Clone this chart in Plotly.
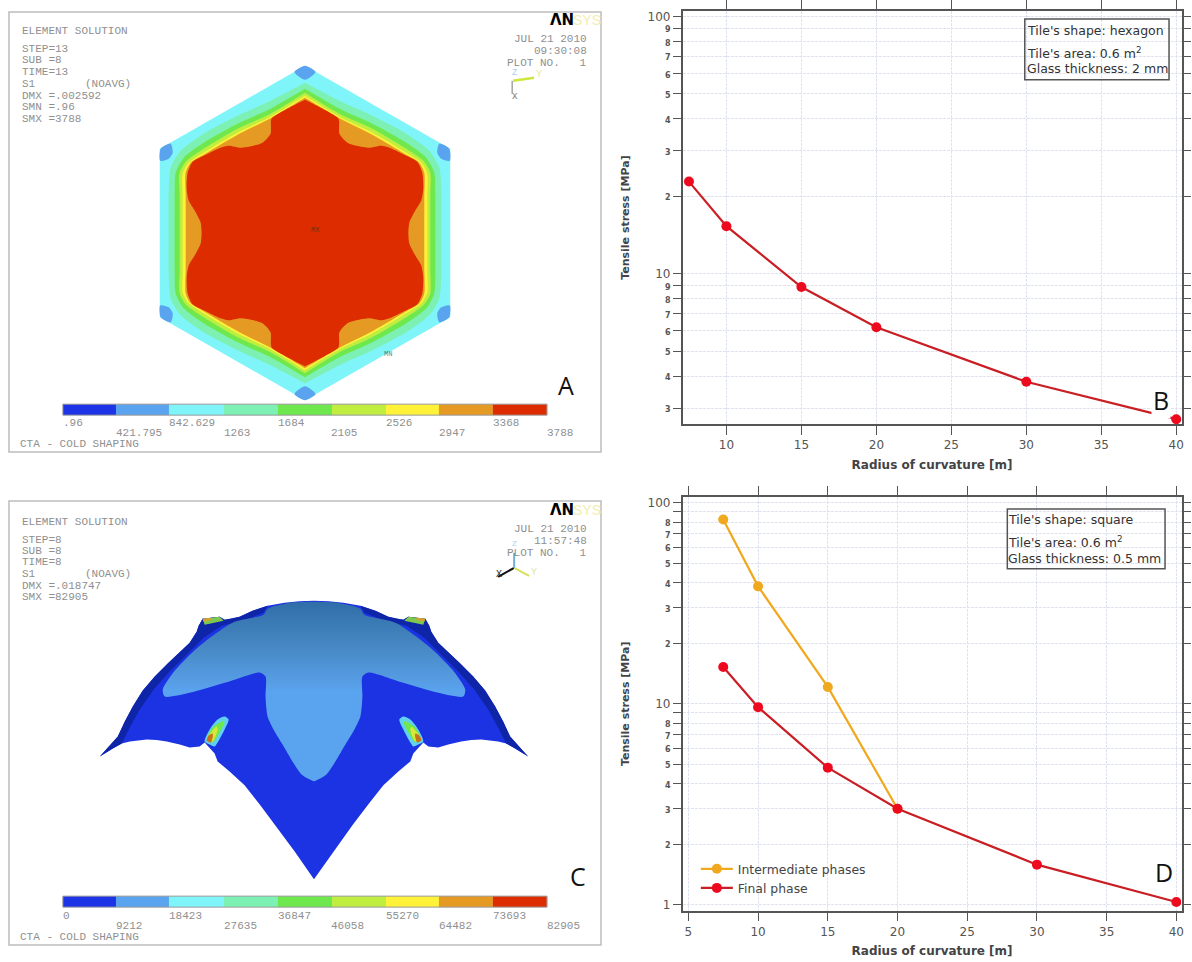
import plotly.graph_objects as go

W, H = 1192, 962

# ---------- line chart data ----------
RADIUS_B = [7.5, 10, 15, 20, 30, 40]
STRESS_B = [22.8, 15.3, 8.87, 6.19, 3.8, 2.72]
RADIUS_D_INT = [7.5, 10, 15, 20]
STRESS_D_INT = [82.4, 38.3, 12.1, 3.0]
RADIUS_D_FIN = [7.5, 10, 15, 20, 30, 40]
STRESS_D_FIN = [15.2, 9.6, 4.8, 3.0, 1.58, 1.03]

TICKS_X_B = [10, 15, 20, 25, 30, 35, 40]
TICKS_X_D = [5, 10, 15, 20, 25, 30, 35, 40]
TICKS_Y_B = [100, 90, 80, 70, 60, 50, 40, 30, 20, 10, 9, 8, 7, 6, 5, 4, 3]
LABELS_Y_B = ["100", "9", "8", "7", "6", "5", "4", "3", "2", "10", "9", "8", "7", "6", "5", "4", "3"]
TICKS_Y_D = [100, 80, 70, 60, 50, 40, 30, 20, 10, 8, 7, 6, 5, 4, 3, 2, 1]
LABELS_Y_D = ["100", "8", "7", "6", "5", "4", "3", "2", "10", "8", "7", "6", "5", "4", "3", "2", "1"]
UNLABELLED_Y_D = [90, 9]

# ---------- contour bands ----------
BAND_COLORS = ["#1c34e6", "#5aa3ee", "#7ff5fa", "#7df0b4", "#6fe84e", "#c0ee40", "#fff238", "#e59a24", "#dc2c00"]
BAR_EDGES = [63, 116, 169.5, 224.6, 278, 332, 386.5, 440, 493.7, 548]
BAR_A_LABELS = [".96", "421.795", "842.629", "1263", "1684", "2105", "2526", "2947", "3368", "3788"]
BAR_C_LABELS = ["0", "9212", "18423", "27635", "36847", "46058", "55270", "64482", "73693", "82905"]

# panel A: one quadrant of each nested contour (apex to right-hand mid-line)
HEX_OUTER = [(305.5, 65), (451, 148), (451, 232.5)]
HEX_MINT = [(305.5, 82), (340, 100), (373, 115), (407, 133), (430, 150), (440, 167), (442, 190), (442, 232.5)]
HEX_GREEN = [(305.5, 88), (340, 108), (373, 123), (407, 142), (427, 157), (435, 172), (436, 195), (436, 232.5)]
HEX_LIME = [(305.5, 92), (340, 113), (373, 128), (407, 148), (424, 160), (431, 172), (431, 195), (431, 232.5)]
HEX_YELLOW = [(305.5, 95), (340, 116), (373, 132), (407, 152), (422, 162), (428, 173), (428, 195), (428, 232.5)]
HEX_ORANGE = [(305.5, 97), (340, 117.5), (373, 134), (407, 154), (420, 162), (425, 172), (425, 195), (425, 232.5)]
HEX_RED = [(305.5, 99), (325, 109), (339, 118), (340, 133), (348, 142), (357, 145), (370, 147), (382, 145), (390, 147),
           (407, 155), (418, 161), (423, 172), (424, 188), (422, 200), (416, 210), (410, 222), (409, 232.5)]
BLOB_TOP = [(295, 71), (305.5, 65), (316, 71), (314, 74), (305.5, 79), (297, 74)]
BLOB_RIGHT = [(440, 143), (450, 148), (450.5, 160), (442, 158), (438, 152)]
TRIAD_A_YELLOW = [(514, 80), (535, 77)]
TRIAD_A_BLACK = [(513, 80), (513, 93)]

# panel C: left half of the outline and colour regions; the right half is its mirror
BODY_HALF = [(314.5, 601), (300, 601.5), (285, 603), (268, 606), (253, 611), (240, 617), (232, 619), (225, 620),
             (220, 617), (203, 619), (199, 626), (197, 632), (190, 643), (179, 653), (168, 664), (155, 677), (143, 691),
             (133, 707), (125, 722), (118, 737), (110, 746), (100, 757), (113, 749), (122, 744), (130, 742), (147, 740),
             (157, 740.5), (167, 742), (180, 745), (190, 748), (200, 747), (205, 743), (215, 754), (218, 762), (230, 772),
             (245, 786), (260, 805), (276, 826), (295, 852), (314.5, 880)]
EDGE_BAND = [(268, 606), (253, 611), (240, 617), (232, 619), (225, 620), (220, 617), (203, 619), (199, 626), (197, 632),
             (190, 643), (179, 653), (168, 664), (155, 677), (143, 691), (133, 707), (125, 722), (118, 737), (110, 746),
             (100, 757), (113, 749), (122, 744), (130, 728), (140, 710), (154, 690), (170, 672), (186, 656), (204, 638),
             (222, 626), (244, 621), (264, 613)]
DOME_HALF = [(314.5, 602), (291, 603), (268, 609), (264, 615), (233, 623), (199, 647), (176, 670), (163, 690),
             (165, 697), (191, 693), (226, 683), (260, 673), (266, 677), (266, 697), (268, 717), (274, 730),
             (283, 745), (302, 775), (314.5, 782)]
TAB = [(203, 619), (220, 617), (224, 621), (215, 623), (205, 625)]
TAB_TOP = [(203, 619), (212, 618), (212, 620), (204, 622)]
LOBE_CYAN = [(205, 742), (210, 730), (218, 720), (225, 717), (229, 720), (225, 730), (218, 743), (215, 747), (210, 745)]
LOBE_GREEN = [(208, 738), (213, 728), (222, 722), (225, 722), (220, 733), (213, 743)]
LOBE_YELLOW = [(207, 740), (212, 732), (217, 727), (218, 730), (213, 742)]
LOBE_ORANGE = [(207, 741), (209, 736), (213, 734), (213, 738), (211, 743)]
TRIAD_C_X = [(499, 577), (515, 568)]
TRIAD_C_Y = [(515, 568), (530, 576)]
TRIAD_C_Z = [(515, 568), (515, 553)]

# ---------- text ----------
INFO_A = [(20, 30, "ELEMENT SOLUTION"), (20, 48, "STEP=13"), (20, 59, "SUB =8"), (20, 71, "TIME=13"),
          (20, 83, "S1"), (83, 83, "(NOAVG)"), (20, 95, "DMX =.002592"), (20, 106, "SMN =.96"), (20, 118, "SMX =3788"),
          (18, 444, "CTA - COLD SHAPING")]
INFO_C = [(20, 522, "ELEMENT SOLUTION"), (20, 540, "STEP=8"), (20, 551, "SUB =8"), (20, 562, "TIME=8"),
          (20, 574, "S1"), (83, 574, "(NOAVG)"), (20, 586, "DMX =.018747"), (20, 597, "SMX =82905"),
          (18, 938, "CTA - COLD SHAPING")]
STAMP_A = [(38, "JUL 21 2010"), (50, "09:30:08"), (62, "PLOT NO.   1")]
STAMP_C = [(529, "JUL 21 2010"), (541, "11:57:48"), (553, "PLOT NO.   1")]
BOX_B = ["Tile's shape: hexagon", "Tile's area: 0.6 m<sup>2</sup>", "Glass thickness: 2 mm"]
BOX_D = ["Tile's shape: square", "Tile's area: 0.6 m<sup>2</sup>", "Glass thickness: 0.5 mm"]

GREY = "#8f8f8f"
MONO = "Liberation Mono"
SANS = "DejaVu Sans"


def mirror_x(pts, cx):
    return list(pts) + [(2 * cx - x, y) for x, y in reversed(pts)]


def hex_ring(quadrant, cx=305.5, cy=232.5):
    right = list(quadrant) + [(x, 2 * cy - y) for x, y in reversed(quadrant)]
    return right + [(2 * cx - x, y) for x, y in reversed(right)]


fig = go.Figure()


def poly(pts, color=None, smooth=False, **kw):
    line = dict(width=0, color=color or "#000")
    if smooth:
        line.update(shape="spline", smoothing=0.7)
    fig.add_trace(go.Scatter(x=[p[0] for p in pts] + [pts[0][0]], y=[p[1] for p in pts] + [pts[0][1]],
                             mode="lines", fill="toself", fillcolor=color, line=line,
                             hoverinfo="skip", showlegend=False, xaxis="x", yaxis="y", **kw))


def seg(pts, color, width=1.5):
    fig.add_trace(go.Scatter(x=[p[0] for p in pts], y=[p[1] for p in pts], mode="lines",
                             line=dict(color=color, width=width), hoverinfo="skip", showlegend=False,
                             xaxis="x", yaxis="y"))


def colorbar(y0, y1):
    fig.add_trace(go.Heatmap(z=[list(range(9))], x=BAR_EDGES, y=[y0, y1], zmin=0, zmax=8,
                             colorscale=[[i / 8, c] for i, c in enumerate(BAND_COLORS)],
                             showscale=False, hoverinfo="skip", xaxis="x", yaxis="y"))


# panel A
poly(hex_ring(HEX_OUTER), BAND_COLORS[2])
for q, c in zip([HEX_MINT, HEX_GREEN, HEX_LIME, HEX_YELLOW, HEX_ORANGE],
                [BAND_COLORS[3], BAND_COLORS[4], BAND_COLORS[5], BAND_COLORS[6], BAND_COLORS[7]]):
    poly(hex_ring(q), c, smooth=True)
poly(hex_ring(HEX_RED), BAND_COLORS[8], smooth=True)
poly(BLOB_TOP, BAND_COLORS[1], smooth=True)
poly([(x, 465 - y) for x, y in BLOB_TOP], BAND_COLORS[1], smooth=True)
for blob in (BLOB_RIGHT, [(x, 465 - y) for x, y in BLOB_RIGHT],
             [(611 - x, y) for x, y in BLOB_RIGHT], [(611 - x, 465 - y) for x, y in BLOB_RIGHT]):
    poly(blob, BAND_COLORS[1], smooth=True)
colorbar(404, 415)
seg(TRIAD_A_YELLOW, "#cfe63c", 2.5)
seg(TRIAD_A_BLACK, "#777777", 1)

# panel C
poly(mirror_x(BODY_HALF, 314.5), "#1b33e2")
for band in (EDGE_BAND, [(629 - x, y) for x, y in EDGE_BAND]):
    poly(band, "#0f25a8")
poly(mirror_x(DOME_HALF, 314.5), smooth=True,
     fillgradient=dict(type="vertical", colorscale=[[0, "#5aa3ee"], [0.5, "#5aa3ee"], [0.78, "#4585bf"], [1, "#2f6ea8"]]))
for flip in (False, True):
    fx = (lambda pts: [(629 - x, y) for x, y in pts]) if flip else (lambda pts: pts)
    poly(fx(TAB), "#7fc850")
    poly(fx(TAB_TOP), "#d8a030")
    poly(fx(LOBE_CYAN), "#62d0f2", smooth=True)
    poly(fx(LOBE_GREEN), "#6fe84e", smooth=True)
    poly(fx(LOBE_YELLOW), "#d8e83a", smooth=True)
    poly(fx(LOBE_ORANGE), "#c8701c", smooth=True)
colorbar(897, 908)
seg(TRIAD_C_X, "#111111", 2)
seg(TRIAD_C_Y, "#d8e05a", 2)
seg(TRIAD_C_Z, "#6fb0d8", 2)

# panel B
LINE_RED, MARK_RED, ORANGE = "#c81e24", "#ee0a1e", "#f0a81e"
fig.add_trace(go.Scatter(x=RADIUS_B, y=STRESS_B, mode="lines+markers", line=dict(color=LINE_RED, width=2.2),
                         marker=dict(color=MARK_RED, size=10), showlegend=False, xaxis="x2", yaxis="y2"))
# panel D
fig.add_trace(go.Scatter(x=RADIUS_D_INT, y=STRESS_D_INT, name="Intermediate phases", mode="lines+markers",
                         line=dict(color=ORANGE, width=2.2), marker=dict(color=ORANGE, size=10),
                         xaxis="x3", yaxis="y3"))
fig.add_trace(go.Scatter(x=RADIUS_D_FIN, y=STRESS_D_FIN, name="Final phase", mode="lines+markers",
                         line=dict(color=LINE_RED, width=2.2), marker=dict(color=MARK_RED, size=10),
                         xaxis="x3", yaxis="y3"))

ann = []


def text(x, y, s, size=11, color=GREY, family=MONO, anchor="left", **kw):
    ann.append(dict(x=x, y=y, xref="x", yref="y", text=s, showarrow=False, xanchor=anchor, yanchor="middle",
                    font=dict(size=size, color=color, family=family), **kw))


for x, y, s in INFO_A + INFO_C:
    text(x, y, s)
for y, s in STAMP_A + STAMP_C:
    text(590, y, s, anchor="right")
for labels, y1, y2 in ((BAR_A_LABELS, 423, 433), (BAR_C_LABELS, 917, 927)):
    for i, (x, s) in enumerate(zip(BAR_EDGES, labels)):
        text(x - 2, y1 if i % 2 == 0 else y2, s)
for y in (19, 510):
    text(549, y, "<b>ΛN</b>", size=15, color="#000000", family=SANS)
    text(572, y, "SYS", size=14, color="#f3edb0", family="Liberation Sans")
text(310, 229, "MX", size=7, color="#7a3010")
text(383, 354, "MN", size=7, color="#3a8f90")
text(516, 72, "Z", size=9, color="#a8d0f0", anchor="center")
text(540, 74, "Y", size=10, color="#e8e8a0", anchor="center")
text(516, 96, "X", size=9, color="#777777", anchor="center")
text(500, 575, "X", size=10, color="#222222", anchor="center")
text(535, 573, "Y", size=10, color="#dfe3a0", anchor="center")
text(515, 544, "Z", size=8, color="#a8d0f0", anchor="center")

for xs, ys, lines in ((1027, (30, 52, 68), BOX_B), (1008, (520, 542, 559), BOX_D)):
    for y, s in zip(ys, lines):
        text(xs, y, s, size=12.5, color="#333333", family=SANS)

text(567, 385, "A", size=25, color="#111111", family="Open Sans", anchor="center")
text(1163, 400, "B", size=25, color="#111111", family="Open Sans", anchor="center", bgcolor="#ffffff")
text(579, 877, "C", size=25, color="#111111", family="Open Sans", anchor="center")
text(1166, 873, "D", size=25, color="#111111", family="Open Sans", anchor="center")


def rect(x0, y0, x1, y1, color, width):
    return dict(type="rect", xref="x", yref="y", x0=x0, y0=y0, x1=x1, y1=y1, layer="above",
                line=dict(color=color, width=width), fillcolor="rgba(0,0,0,0)")


shapes = [
    rect(9, 11, 602, 452, "#bdbdbd", 1.5),
    rect(9, 501, 602, 946, "#bdbdbd", 1.5),
    rect(63, 404, 548, 415, "#9a9a9a", 1),
    rect(63, 897, 548, 908, "#9a9a9a", 1),
    rect(1026.5, 18, 1171, 79, "#555555", 1.5),
    rect(1009, 509, 1167, 569, "#555555", 1.5),
]


def small(vals):
    return [v if v in ("100", "10", "1") else f'<span style="font-size:8px"><b>{v}</b></span>' for v in vals]


GRID = dict(showgrid=True, gridcolor="#dfe2f0", griddash="3px,1px", gridwidth=1)


def plot_axes(domain_x, domain_y, xr, yr, xt, yt, yl):
    ax = dict(domain=domain_x, range=xr, tickvals=xt, ticks="outside", ticklen=9, tickcolor="#555555",
              showline=True, linecolor="#555555", linewidth=1.5, mirror="allticks", zeroline=False,
              tickfont=dict(size=12, color="#555555", family=SANS),
              title=dict(text="<b>Radius of curvature [m]</b>", standoff=9,
                         font=dict(size=12, color="#444444", family=SANS)), **GRID)
    ay = dict(domain=domain_y, type="log", range=yr, tickvals=yt, ticktext=small(yl), ticks="outside", ticklen=8,
              tickcolor="#555555", showline=True, linecolor="#555555", linewidth=1.5, mirror="allticks", zeroline=False,
              tickfont=dict(size=12, color="#555555", family=SANS),
              title=dict(text="<b>Tensile stress [MPa]</b>", standoff=16,
                         font=dict(size=11, color="#444444", family=SANS)), **GRID)
    return ax, ay


xa2, ya2 = plot_axes([683.8 / W, 1183.5 / W], [1 - 424 / H, 1 - 10 / H], [7.08, 40.35], [0.4154, 2.021],
                     TICKS_X_B, TICKS_Y_B, LABELS_Y_B)
xa3, ya3 = plot_axes([683.8 / W, 1183.5 / W], [1 - 911.5 / H, 1 - 497 / H], [4.59, 40.37], [-0.03, 2.028],
                     TICKS_X_D, TICKS_Y_D, LABELS_Y_D)
ya3.update(minor=dict(tickvals=UNLABELLED_Y_D, ticks="outside", ticklen=8, tickcolor="#555555", **GRID))
xa2.update(anchor="y2")
ya2.update(anchor="x2")
xa3.update(anchor="y3")
ya3.update(anchor="x3")

fig.update_layout(
    width=W, height=H, margin=dict(l=0, r=0, t=0, b=0), paper_bgcolor="#ffffff", plot_bgcolor="rgba(0,0,0,0)",
    showlegend=True,
    legend=dict(x=697 / W, y=1 - 855 / H, xanchor="left", yanchor="top", bgcolor="rgba(0,0,0,0)", itemwidth=32,
                font=dict(size=12.4, color="#444444", family=SANS), tracegroupgap=0),
    xaxis=dict(domain=[0, 1], range=[0, W], visible=False, fixedrange=True),
    yaxis=dict(domain=[0, 1], range=[H, 0], visible=False, fixedrange=True),
    xaxis2=xa2, yaxis2=ya2, xaxis3=xa3, yaxis3=ya3,
    annotations=ann, shapes=shapes,
)

fig.write_html("out.html", config=dict(displayModeBar=False),
               post_script="document.body.style.margin='0';document.body.style.overflow='hidden';")
